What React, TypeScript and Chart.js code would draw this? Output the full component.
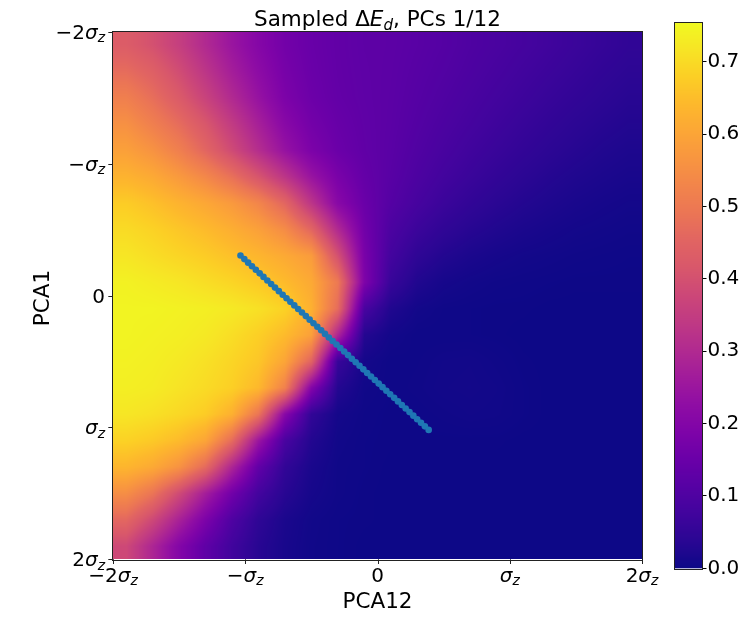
import React, { useEffect, useRef } from 'react';
import { Chart, registerables } from 'chart.js';

Chart.register(...registerables);

const FONT = '"DejaVu Sans"';

// Heatmap cell centres (in units of sigma_z)
const xCenters = [-1.9, -1.7, -1.5, -1.3, -1.1, -0.9, -0.7, -0.5, -0.3, -0.1, 0.1, 0.3, 0.5, 0.7, 0.9, 1.1, 1.3, 1.5, 1.7, 1.9];
const yCenters = [-1.9, -1.7, -1.5, -1.3, -1.1, -0.9, -0.7, -0.5, -0.3, -0.1, 0.1, 0.3, 0.5, 0.7, 0.9, 1.1, 1.3, 1.5, 1.7, 1.9];

// Sampled Delta E_d, one row per yCenter (PCA1), one column per xCenter (PCA12)
const heatValues: number[][] = [
  [0.43, 0.4, 0.355, 0.3, 0.247, 0.203, 0.167, 0.147, 0.135, 0.127, 0.125, 0.118, 0.11, 0.1, 0.092, 0.083, 0.074, 0.065, 0.056, 0.048],
  [0.47, 0.44, 0.39, 0.33, 0.27, 0.22, 0.175, 0.15, 0.136, 0.128, 0.124, 0.115, 0.106, 0.096, 0.086, 0.076, 0.067, 0.058, 0.049, 0.042],
  [0.515, 0.475, 0.425, 0.365, 0.3, 0.24, 0.185, 0.155, 0.138, 0.129, 0.123, 0.112, 0.101, 0.09, 0.079, 0.069, 0.059, 0.05, 0.042, 0.035],
  [0.555, 0.515, 0.47, 0.415, 0.345, 0.275, 0.21, 0.168, 0.145, 0.131, 0.122, 0.108, 0.095, 0.083, 0.071, 0.06, 0.05, 0.041, 0.034, 0.028],
  [0.59, 0.56, 0.515, 0.455, 0.385, 0.31, 0.24, 0.185, 0.152, 0.133, 0.12, 0.103, 0.088, 0.074, 0.062, 0.051, 0.041, 0.033, 0.026, 0.021],
  [0.63, 0.61, 0.575, 0.535, 0.48, 0.41, 0.33, 0.245, 0.18, 0.14, 0.117, 0.096, 0.078, 0.064, 0.051, 0.04, 0.031, 0.024, 0.019, 0.015],
  [0.675, 0.655, 0.63, 0.605, 0.575, 0.53, 0.455, 0.33, 0.21, 0.15, 0.11, 0.085, 0.065, 0.05, 0.038, 0.029, 0.022, 0.016, 0.012, 0.009],
  [0.7, 0.685, 0.665, 0.645, 0.62, 0.59, 0.545, 0.455, 0.3, 0.165, 0.095, 0.066, 0.047, 0.034, 0.025, 0.018, 0.013, 0.009, 0.007, 0.005],
  [0.72, 0.705, 0.69, 0.675, 0.655, 0.635, 0.61, 0.58, 0.4, 0.18, 0.08, 0.045, 0.028, 0.018, 0.012, 0.008, 0.006, 0.004, 0.003, 0.002],
  [0.74, 0.73, 0.72, 0.705, 0.69, 0.67, 0.645, 0.61, 0.5, 0.19, 0.06, 0.025, 0.012, 0.007, 0.004, 0.003, 0.002, 0.001, 0.001, 0.001],
  [0.745, 0.745, 0.74, 0.735, 0.725, 0.71, 0.685, 0.625, 0.47, 0.09, 0.025, 0.008, 0.003, 0.002, 0.001, 0.001, 0, 0, 0, 0],
  [0.745, 0.74, 0.735, 0.725, 0.705, 0.68, 0.645, 0.59, 0.29, 0.03, 0.008, 0.002, 0.002, 0.002, 0.001, 0, 0, 0, 0, 0],
  [0.74, 0.735, 0.725, 0.71, 0.69, 0.665, 0.6, 0.45, 0.06, 0.01, 0.002, 0.003, 0.006, 0.007, 0.004, 0.001, 0, 0, 0, 0],
  [0.735, 0.73, 0.715, 0.7, 0.68, 0.64, 0.52, 0.2, 0.03, 0.005, 0.002, 0.004, 0.007, 0.008, 0.006, 0.002, 0, 0, 0, 0],
  [0.72, 0.71, 0.695, 0.675, 0.625, 0.49, 0.21, 0.05, 0.01, 0.003, 0.001, 0.002, 0.004, 0.006, 0.005, 0.002, 0, 0, 0, 0],
  [0.685, 0.67, 0.645, 0.6, 0.47, 0.25, 0.09, 0.028, 0.006, 0.002, 0.001, 0.001, 0.001, 0.001, 0.001, 0, 0, 0, 0, 0],
  [0.635, 0.61, 0.56, 0.465, 0.29, 0.135, 0.05, 0.017, 0.004, 0.002, 0, 0, 0, 0, 0, 0, 0, 0, 0, 0],
  [0.55, 0.49, 0.385, 0.27, 0.165, 0.08, 0.035, 0.012, 0.004, 0.001, 0, 0, 0, 0, 0, 0, 0, 0, 0, 0],
  [0.46, 0.38, 0.28, 0.185, 0.1, 0.045, 0.018, 0.006, 0.002, 0.001, 0, 0, 0, 0, 0, 0, 0, 0, 0, 0],
  [0.38, 0.29, 0.2, 0.13, 0.075, 0.035, 0.015, 0.005, 0.002, 0, 0, 0, 0, 0, 0, 0, 0, 0, 0, 0],
];

// Sampled path (PCA12, PCA1)
const pathX = [
  -1.036, -1.007, -0.978, -0.949, -0.92, -0.891, -0.862, -0.833, -0.804, -0.775,
  -0.746, -0.717, -0.688, -0.659, -0.629, -0.6, -0.571, -0.542, -0.513, -0.484,
  -0.455, -0.426, -0.397, -0.368, -0.339, -0.31, -0.281, -0.252, -0.223, -0.194,
  -0.165, -0.136, -0.107, -0.078, -0.049, -0.02, 0.009, 0.038, 0.067, 0.096,
  0.126, 0.155, 0.184, 0.213, 0.242, 0.271, 0.3, 0.329, 0.358, 0.387,
];
const pathY = [
  -0.303, -0.276, -0.249, -0.222, -0.195, -0.168, -0.141, -0.114, -0.087, -0.06,
  -0.033, -0.006, 0.021, 0.048, 0.075, 0.102, 0.129, 0.156, 0.183, 0.21,
  0.237, 0.264, 0.291, 0.318, 0.345, 0.372, 0.398, 0.425, 0.452, 0.479,
  0.506, 0.533, 0.56, 0.587, 0.614, 0.641, 0.668, 0.695, 0.722, 0.749,
  0.776, 0.803, 0.83, 0.857, 0.884, 0.911, 0.938, 0.965, 0.992, 1.019,
];

const axisTickValues = [-2, -1, 0, 1, 2];
const axisTickLabels = ['−2σ_z', '−σ_z', '0', 'σ_z', '2σ_z'];
const colorbarTicks = [0, 0.1, 0.2, 0.3, 0.4, 0.5, 0.6, 0.7];
const colorMin = 0;
const colorMax = 0.754;

const titleText = 'Sampled ΔE_d, PCs 1/12';
const xLabel = 'PCA12';
const yLabel = 'PCA1';

// plasma colormap control colours (t = 0, 0.05, ..., 1)
const plasmaStops: number[][] = [
  [13, 8, 135], [42, 6, 147], [65, 4, 157], [86, 1, 164], [106, 0, 168],
  [126, 3, 168], [143, 13, 164], [161, 27, 155], [177, 42, 144], [191, 57, 132],
  [204, 71, 120], [216, 87, 107], [225, 100, 98], [235, 117, 85], [242, 132, 75],
  [248, 149, 64], [252, 166, 54], [253, 184, 44], [252, 206, 37], [247, 228, 37],
  [240, 249, 33],
];

function plasma(t: number): number[] {
  const c = Math.max(0, Math.min(1, t)) * (plasmaStops.length - 1);
  const i = Math.min(plasmaStops.length - 2, Math.floor(c));
  const f = c - i;
  const a = plasmaStops[i];
  const b = plasmaStops[i + 1];
  return [a[0] + (b[0] - a[0]) * f, a[1] + (b[1] - a[1]) * f, a[2] + (b[2] - a[2]) * f];
}

// value of the grid at a data position (bilinear between cell centres, like imshow)
function sampleGrid(X: number, Y: number): number {
  const n = xCenters.length;
  const m = yCenters.length;
  let fx = (X - xCenters[0]) / (xCenters[1] - xCenters[0]);
  let fy = (Y - yCenters[0]) / (yCenters[1] - yCenters[0]);
  fx = Math.max(0, Math.min(n - 1, fx));
  fy = Math.max(0, Math.min(m - 1, fy));
  const i0 = Math.min(n - 2, Math.floor(fx));
  const j0 = Math.min(m - 2, Math.floor(fy));
  const tx = fx - i0;
  const ty = fy - j0;
  const a = heatValues[j0][i0];
  const b = heatValues[j0][i0 + 1];
  const c = heatValues[j0 + 1][i0];
  const d = heatValues[j0 + 1][i0 + 1];
  return (a * (1 - tx) + b * tx) * (1 - ty) + (c * (1 - tx) + d * tx) * ty;
}

type Part = { t: string; italic?: boolean; sub?: boolean };

function fontFor(p: Part, size: number) {
  const s = p.sub ? size * 0.7 : size;
  return `${p.italic ? 'italic ' : ''}${s}px ${FONT}`;
}

function parseMath(label: string): Part[] {
  const parts: Part[] = [];
  const re = /([A-Za-zσ])_([a-z])/g;
  let last = 0;
  let m: RegExpExecArray | null;
  while ((m = re.exec(label)) !== null) {
    if (m.index > last) parts.push({ t: label.slice(last, m.index) });
    parts.push({ t: m[1], italic: true });
    parts.push({ t: m[2], italic: true, sub: true });
    last = m.index + m[0].length;
  }
  if (last < label.length) parts.push({ t: label.slice(last) });
  return parts;
}

function drawParts(ctx: CanvasRenderingContext2D, parts: Part[], x: number, y: number, align: 'left' | 'center' | 'right', size: number) {
  ctx.save();
  ctx.textBaseline = 'alphabetic';
  ctx.textAlign = 'left';
  ctx.fillStyle = '#000';
  const widths = parts.map((p) => {
    ctx.font = fontFor(p, size);
    return ctx.measureText(p.t).width;
  });
  const total = widths.reduce((a, b) => a + b, 0);
  let cx = align === 'left' ? x : align === 'right' ? x - total : x - total / 2;
  parts.forEach((p, i) => {
    ctx.font = fontFor(p, size);
    ctx.fillText(p.t, cx, y + (p.sub ? size * 0.17 : 0));
    cx += widths[i];
  });
  ctx.restore();
}

const heatmapPlugin = {
  id: 'heatmap',
  beforeDatasetsDraw(chart: any) {
    const { ctx, chartArea, scales } = chart;
    const xs = scales.x;
    const ys = scales.y;
    const x0 = Math.round(chartArea.left);
    const y0 = Math.round(chartArea.top);
    const w = Math.round(chartArea.right) - x0;
    const h = Math.round(chartArea.bottom) - y0;
    const img = ctx.createImageData(w, h);
    for (let py = 0; py < h; py++) {
      const Y = ys.getValueForPixel(y0 + py + 0.5);
      for (let px = 0; px < w; px++) {
        const X = xs.getValueForPixel(x0 + px + 0.5);
        const v = sampleGrid(X, Y);
        const col = plasma((v - colorMin) / (colorMax - colorMin));
        const k = (py * w + px) * 4;
        img.data[k] = Math.round(col[0]);
        img.data[k + 1] = Math.round(col[1]);
        img.data[k + 2] = Math.round(col[2]);
        img.data[k + 3] = 255;
      }
    }
    ctx.putImageData(img, x0, y0);
  },
};

const decorPlugin = {
  id: 'decor',
  afterDraw(chart: any) {
    const { ctx, chartArea, scales } = chart;
    const xs = scales.x;
    const ys = scales.y;
    const { left, right, top, bottom } = chartArea;
    ctx.save();
    // frame
    ctx.strokeStyle = '#222';
    ctx.lineWidth = 1;
    ctx.strokeRect(Math.round(left) - 0.5, Math.round(top) - 0.5, Math.round(right - left) + 1, Math.round(bottom - top) + 1);
    // tick marks
    ctx.beginPath();
    axisTickValues.forEach((v) => {
      const px = Math.round(xs.getPixelForValue(v)) + 0.5;
      ctx.moveTo(px, bottom);
      ctx.lineTo(px, bottom + 4.7);
      const py = Math.round(ys.getPixelForValue(v)) + 0.5;
      ctx.moveTo(left, py);
      ctx.lineTo(left - 4.7, py);
    });
    ctx.stroke();
    ctx.restore();
    // tick labels
    axisTickValues.forEach((v, i) => {
      const parts = parseMath(axisTickLabels[i]);
      drawParts(ctx, parts, xs.getPixelForValue(v), bottom + 22.7, 'center', 20);
      drawParts(ctx, parts, left - 8, ys.getPixelForValue(v) + 7, 'right', 20);
    });
    // title
    drawParts(ctx, parseMath(titleText), (left + right) / 2, top - 5.7, 'center', 21.5);
    // axis labels
    drawParts(ctx, [{ t: xLabel }], (left + right) / 2, bottom + 49, 'center', 21.5);
    ctx.save();
    ctx.translate(48.5, (top + bottom) / 2 + 2.5);
    ctx.rotate(-Math.PI / 2);
    drawParts(ctx, [{ t: yLabel }], 0, 0, 'center', 21.5);
    ctx.restore();
  },
};

const colorbarPlugin = {
  id: 'colorbar',
  beforeDraw(chart: any) {
    const { ctx, chartArea, scales } = chart;
    const ys = scales.y;
    const { left, right, top, bottom } = chartArea;
    ctx.save();
    for (let py = Math.floor(top); py < Math.ceil(bottom); py++) {
      const v = ys.getValueForPixel(py + 0.5);
      const c = plasma((v - colorMin) / (colorMax - colorMin));
      ctx.fillStyle = `rgb(${Math.round(c[0])},${Math.round(c[1])},${Math.round(c[2])})`;
      const yA = Math.max(top, py);
      const yB = Math.min(bottom, py + 1);
      ctx.fillRect(left, yA, right - left, yB - yA);
    }
    ctx.restore();
  },
  afterDraw(chart: any) {
    const { ctx, chartArea } = chart;
    const { left, right, top, bottom } = chartArea;
    ctx.save();
    ctx.strokeStyle = '#222';
    ctx.lineWidth = 1;
    ctx.strokeRect(Math.round(left) - 0.5, Math.round(top) - 0.5, Math.round(right - left) + 1, Math.round(bottom - top) + 1);
    ctx.restore();
  },
};

export default function App() {
  const mainRef = useRef<HTMLCanvasElement>(null);
  const cbRef = useRef<HTMLCanvasElement>(null);

  useEffect(() => {
    const main = new Chart(mainRef.current!, {
      type: 'scatter',
      data: {
        datasets: [
          {
            data: pathX.map((x, i) => ({ x, y: pathY[i] })),
            backgroundColor: '#1f77b4',
            borderColor: '#1f77b4',
            borderWidth: 0,
            pointRadius: 3.3,
            pointHoverRadius: 3.3,
          },
        ],
      },
      options: {
        responsive: false,
        animation: false,
        events: [],
        layout: { padding: { left: 0, right: 18, top: 31.7, bottom: 0 } },
        plugins: { legend: { display: false }, tooltip: { enabled: false }, title: { display: false } },
        scales: {
          x: {
            type: 'linear',
            min: -2,
            max: 2,
            ticks: { display: false },
            grid: { display: false },
            border: { display: false },
            afterFit: (s: any) => {
              s.height = 57.7;
            },
          },
          y: {
            type: 'linear',
            min: -2,
            max: 2,
            reverse: true,
            ticks: { display: false },
            grid: { display: false },
            border: { display: false },
            afterFit: (s: any) => {
              s.width = 113;
            },
          },
        },
      },
      plugins: [heatmapPlugin, decorPlugin],
    } as any);

    const cb = new Chart(cbRef.current!, {
      type: 'scatter',
      data: { datasets: [] },
      options: {
        responsive: false,
        animation: false,
        events: [],
        layout: { padding: { left: 35, right: 0, top: 22.7, bottom: 48.7 } },
        plugins: { legend: { display: false }, tooltip: { enabled: false }, title: { display: false } },
        scales: {
          x: { type: 'linear', display: false, min: 0, max: 1 },
          y: {
            type: 'linear',
            position: 'right',
            min: colorMin,
            max: colorMax,
            afterBuildTicks: (s: any) => {
              s.ticks = colorbarTicks.map((v) => ({ value: v }));
            },
            ticks: {
              color: '#000',
              padding: 1,
              font: { family: 'DejaVu Sans', size: 20 },
              callback: (v: any) => Number(v).toFixed(1),
            },
            grid: { display: true, drawOnChartArea: false, drawTicks: true, tickLength: 4.5, color: '#000', lineWidth: 1 },
            border: { display: false },
            afterFit: (s: any) => {
              s.width = 41;
            },
          },
        },
      },
      plugins: [colorbarPlugin],
    } as any);

    return () => {
      main.destroy();
      cb.destroy();
    };
  }, []);

  return (
    <div style={{ position: 'absolute', left: 0, top: 0, width: 743, height: 617, background: '#fff' }}>
      <canvas ref={mainRef} width={660} height={617} style={{ position: 'absolute', left: 0, top: 0, width: 660, height: 617 }} />
      <canvas ref={cbRef} width={103} height={617} style={{ position: 'absolute', left: 640, top: 0, width: 103, height: 617 }} />
    </div>
  );
}
